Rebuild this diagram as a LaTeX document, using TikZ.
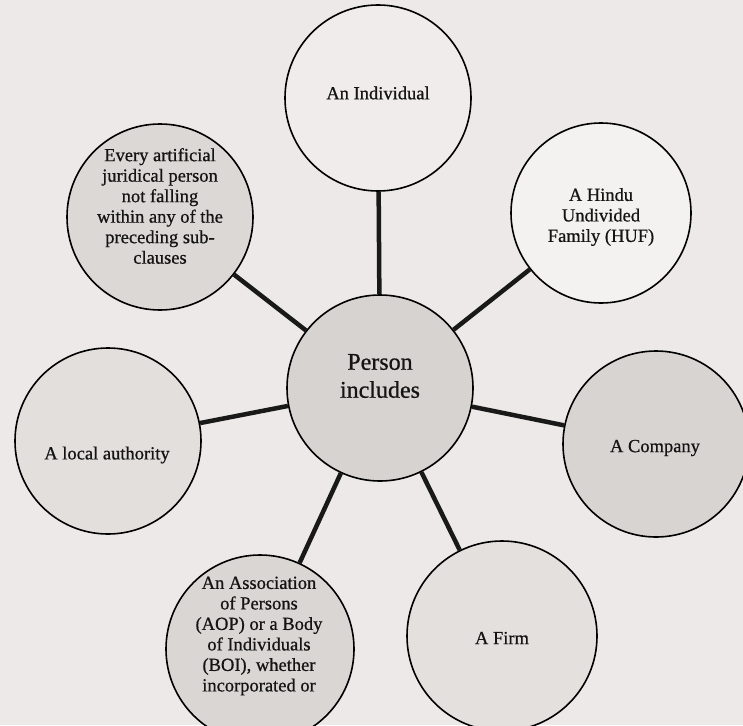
\documentclass[tikz,border=0pt]{standalone}
\usepackage{fontspec}
\setmainfont[FakeBold=0.7]{Liberation Serif}
\definecolor{bgc}{HTML}{ECE9E8}
\definecolor{cpc}{HTML}{D7D3D1}
\definecolor{cind}{HTML}{EFECEB}
\definecolor{chuf}{HTML}{F4F2F1}
\definecolor{ccomp}{HTML}{D8D4D2}
\definecolor{cfirm}{HTML}{E4E0DE}
\definecolor{cassoc}{HTML}{DAD6D3}
\definecolor{clocal}{HTML}{E3DFDD}
\definecolor{cevery}{HTML}{DCD8D5}
\tikzset{
  x=1pt, y=-1pt,
  bub/.style={circle, draw=black, line width=1.6pt, inner sep=0pt},
  txt/.style={align=center, inner sep=0pt, font=\fontsize{18.5}{20.5}\selectfont, text=black!92},
  conn/.style={line width=4.5pt, black!90},
}
\begin{document}
\begin{tikzpicture}
\useasboundingbox (0,0) rectangle (743,725);
\fill[bgc] (0,0) rectangle (743,725);
\begin{scope}
\clip (0,0) rectangle (743,725);
\node[bub, fill=cpc, minimum size=186pt] (pc) at (380,388) {};
\node[bub, fill=cind, minimum size=186pt] (ind) at (378,98) {};
\node[bub, fill=chuf, minimum size=180pt] (huf) at (601,213) {};
\node[bub, fill=ccomp, minimum size=186pt] (comp) at (656,444) {};
\node[bub, fill=cfirm, minimum size=190pt] (firm) at (502,636) {};
\node[bub, fill=cassoc, minimum size=188pt] (assoc) at (260,649) {};
\node[bub, fill=clocal, minimum size=186pt] (local) at (108,441) {};
\node[bub, fill=cevery, minimum size=186pt] (every) at (160,217) {};

\foreach \n in {ind,huf,comp,firm,assoc,local,every}
  \draw[conn] (pc) -- (\n);

\node[txt, font=\fontsize{24}{28}\selectfont] (pct) at (380,376) {Person\\includes};
\node[txt] (indt) at (378,93) {An Individual};
\node[txt] (huft) at (601,217) {A Hindu\\Undivided\\Family (HUF)};
\node[txt] (compt) at (655,448) {A Company};
\node[txt] (firmt) at (502,638) {A Firm};
\node[txt] (assoct) at (259,636) {An Association\\of Persons\\(AOP) or a Body\\of Individuals\\(BOI), whether\\incorporated or};
\node[txt] (localt) at (107,455) {A local authority};
\node[txt] (everyt) at (160,206) {Every artificial\\juridical person\\not falling\\within any of the\\preceding sub-\\clauses};
\end{scope}
\end{tikzpicture}
\end{document}
